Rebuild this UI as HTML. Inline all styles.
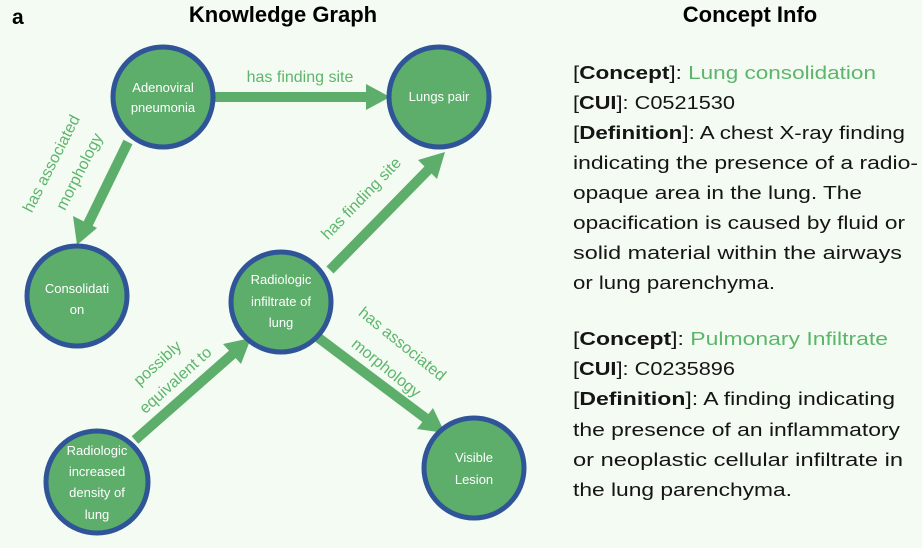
<!DOCTYPE html>
<html><head><meta charset="utf-8"><style>
html,body{margin:0;padding:0;background:#f4fbf2;}
svg{display:block;font-family:"Liberation Sans",sans-serif;}
.n{fill:#5dad6b;stroke:#2f5598;stroke-width:5;}
.t{fill:#fff;font-size:13px;text-anchor:middle;}
.l{fill:#5db56c;font-size:16px;text-anchor:middle;}
.a{stroke:#5dad6b;stroke-width:10;}
.h{fill:#5dad6b;}
.r{font-size:18.5px;fill:#151515;}
.b{font-weight:bold;}
.g{fill:#5db56c;}
</style></head><body>
<svg width="922" height="548" viewBox="0 0 922 548">
<rect width="922" height="548" fill="#f4fbf2"/>
<text x="12" y="24" font-size="21" font-weight="bold">a</text>
<text x="283" y="22" font-size="22" font-weight="bold" text-anchor="middle">Knowledge Graph</text>
<text x="750" y="22" font-size="22" font-weight="bold" text-anchor="middle">Concept Info</text>

<!-- arrows -->
<line class="a" x1="210" y1="97" x2="368" y2="97"/>
<polygon class="h" points="390,97 366,84 366,110"/>
<line class="a" x1="128" y1="142" x2="88" y2="224"/>
<polygon class="h" points="77,245 73,216 97,228"/>
<line class="a" x1="330" y1="270" x2="430" y2="168"/>
<polygon class="h" points="445,152 437,179 418,160"/>
<line class="a" x1="135" y1="440" x2="235" y2="352"/>
<polygon class="h" points="251,338 241,364 223,344"/>
<line class="a" x1="316" y1="336" x2="428" y2="420"/>
<polygon class="h" points="445,433 417,429 433,408"/>

<!-- labels -->
<text class="l" x="300" y="82">has finding site</text>
<text class="l" transform="translate(56,166) rotate(-63)">has associated</text>
<text class="l" transform="translate(84,174) rotate(-63)">morphology</text>
<text class="l" transform="translate(365,202) rotate(-46)">has finding site</text>
<text class="l" transform="translate(161,367) rotate(-42)">possibly</text>
<text class="l" transform="translate(179,384) rotate(-42)">equivalent to</text>
<text class="l" transform="translate(399,348) rotate(39)">has associated</text>
<text class="l" transform="translate(383,372) rotate(39)">morphology</text>

<!-- nodes -->
<circle class="n" cx="163" cy="97" r="50"/>
<text class="t" x="163" y="92">Adenoviral</text><text class="t" x="163" y="112">pneumonia</text>
<circle class="n" cx="439" cy="97" r="50"/>
<text class="t" x="439" y="101">Lungs pair</text>
<circle class="n" cx="77" cy="296" r="50"/>
<text class="t" x="77" y="293">Consolidati</text><text class="t" x="77" y="314">on</text>
<circle class="n" cx="281" cy="302" r="50"/>
<text class="t" x="281" y="284">Radiologic</text><text class="t" x="281" y="306">infiltrate  of</text><text class="t" x="281" y="327">lung</text>
<circle class="n" cx="97" cy="482" r="51"/>
<text class="t" x="97" y="455">Radiologic</text><text class="t" x="97" y="476">increased</text><text class="t" x="97" y="497">density  of</text><text class="t" x="97" y="519">lung</text>
<circle class="n" cx="474" cy="468" r="50"/>
<text class="t" x="474" y="462">Visible</text><text class="t" x="474" y="484">Lesion</text>

<!-- right text -->
<text class="r" x="573" y="79" textLength="303" lengthAdjust="spacingAndGlyphs">[<tspan class="b">Concept</tspan>]:  <tspan class="g">Lung consolidation</tspan></text>
<text class="r" x="573" y="109" textLength="162" lengthAdjust="spacingAndGlyphs">[<tspan class="b">CUI</tspan>]: C0521530</text>
<text class="r" x="573" y="139" textLength="332" lengthAdjust="spacingAndGlyphs">[<tspan class="b">Definition</tspan>]: A chest X-ray finding</text>
<text class="r" x="573" y="169" textLength="345" lengthAdjust="spacingAndGlyphs">indicating the presence of a radio-</text>
<text class="r" x="573" y="199" textLength="289" lengthAdjust="spacingAndGlyphs">opaque area in the lung. The</text>
<text class="r" x="573" y="229" textLength="332" lengthAdjust="spacingAndGlyphs">opacification is caused by fluid or</text>
<text class="r" x="573" y="259" textLength="329" lengthAdjust="spacingAndGlyphs">solid material within the airways</text>
<text class="r" x="573" y="289" textLength="202" lengthAdjust="spacingAndGlyphs">or lung parenchyma.</text>
<text class="r" x="573" y="345" textLength="315" lengthAdjust="spacingAndGlyphs">[<tspan class="b">Concept</tspan>]: <tspan class="g">Pulmonary Infiltrate</tspan></text>
<text class="r" x="573" y="375" textLength="162" lengthAdjust="spacingAndGlyphs">[<tspan class="b">CUI</tspan>]: C0235896</text>
<text class="r" x="573" y="405" textLength="322" lengthAdjust="spacingAndGlyphs">[<tspan class="b">Definition</tspan>]: A finding indicating</text>
<text class="r" x="573" y="436" textLength="327" lengthAdjust="spacingAndGlyphs">the presence of an inflammatory</text>
<text class="r" x="573" y="466" textLength="330" lengthAdjust="spacingAndGlyphs">or neoplastic cellular infiltrate in</text>
<text class="r" x="573" y="496" textLength="219" lengthAdjust="spacingAndGlyphs">the lung parenchyma.</text>
</svg>
</body></html>
